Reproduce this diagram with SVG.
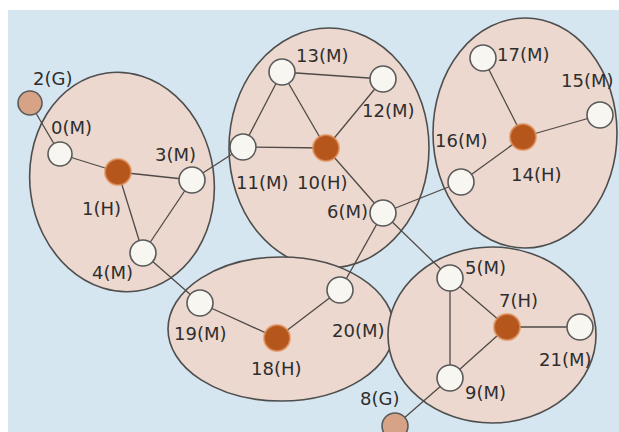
<svg xmlns="http://www.w3.org/2000/svg" width="619" height="432" viewBox="0 0 619 432">
<style>
.cl{fill:#ecd8ce;stroke:#4e4e4e;stroke-width:1.6}
.m{fill:#f8f6f1;stroke:#5a5a5a;stroke-width:1.6}
.h{fill:#b5561d;stroke:#e0925e;stroke-width:2;stroke-opacity:.7}
.g{fill:#d6a386;stroke:#5a5a5a;stroke-width:1.6}
.e{stroke:#4f4a48;stroke-width:1.3;fill:none}
text{font-family:"DejaVu Sans","Liberation Sans",sans-serif;font-size:18px;fill:#2e2e2e}
</style>
<rect x="0" y="0" width="619" height="432" fill="#ffffff"/>
<rect x="8" y="10" width="611" height="422" fill="#d6e6f0"/>
<g id="clusters">
<ellipse id="c1" class="cl" cx="122" cy="182" rx="92" ry="110" transform="rotate(-8 122 182)"/>
<ellipse id="c2" class="cl" cx="329" cy="148" rx="100" ry="120"/>
<ellipse id="c3" class="cl" cx="525" cy="133" rx="92" ry="115"/>
<ellipse id="c4" class="cl" cx="281" cy="329" rx="113" ry="72"/>
<ellipse id="c5" class="cl" cx="492" cy="335" rx="104" ry="88"/>
</g>
<g id="connectors">
<line class="e" x1="30" y1="103" x2="60" y2="154"/>
<line class="e" x1="60" y1="154" x2="118" y2="172"/>
<line class="e" x1="118" y1="172" x2="192" y2="180"/>
<line class="e" x1="118" y1="172" x2="143" y2="253"/>
<line class="e" x1="192" y1="180" x2="143" y2="253"/>
<line class="e" x1="192" y1="180" x2="243" y2="147"/>
<line class="e" x1="243" y1="147" x2="282" y2="72"/>
<line class="e" x1="243" y1="147" x2="326" y2="148"/>
<line class="e" x1="282" y1="72" x2="383" y2="79"/>
<line class="e" x1="282" y1="72" x2="326" y2="148"/>
<line class="e" x1="383" y1="79" x2="326" y2="148"/>
<line class="e" x1="326" y1="148" x2="383" y2="213"/>
<line class="e" x1="383" y1="213" x2="461" y2="182"/>
<line class="e" x1="461" y1="182" x2="523" y2="137"/>
<line class="e" x1="523" y1="137" x2="483" y2="58"/>
<line class="e" x1="523" y1="137" x2="600" y2="115"/>
<line class="e" x1="383" y1="213" x2="450" y2="278"/>
<line class="e" x1="383" y1="213" x2="340" y2="290"/>
<line class="e" x1="340" y1="290" x2="277" y2="338"/>
<line class="e" x1="277" y1="338" x2="200" y2="303"/>
<line class="e" x1="200" y1="303" x2="143" y2="253"/>
<line class="e" x1="450" y1="278" x2="507" y2="327"/>
<line class="e" x1="450" y1="278" x2="450" y2="378"/>
<line class="e" x1="450" y1="378" x2="507" y2="327"/>
<line class="e" x1="507" y1="327" x2="580" y2="327"/>
<line class="e" x1="450" y1="378" x2="395" y2="426"/>
</g>
<g id="n2"><circle class="g" cx="30" cy="103" r="12"/><text x="33" y="85">2(G)</text></g>
<g id="n0"><circle class="m" cx="60" cy="154" r="12"/><text x="51" y="134">0(M)</text></g>
<g id="n1"><circle class="h" cx="118" cy="172" r="13"/><text x="82" y="215">1(H)</text></g>
<g id="n3"><circle class="m" cx="192" cy="180" r="13"/><text x="155" y="161">3(M)</text></g>
<g id="n4"><circle class="m" cx="143" cy="253" r="13"/><text x="92" y="279">4(M)</text></g>
<g id="n11"><circle class="m" cx="243" cy="147" r="13"/><text x="236" y="189">11(M)</text></g>
<g id="n10"><circle class="h" cx="326" cy="148" r="13"/><text x="297" y="189">10(H)</text></g>
<g id="n13"><circle class="m" cx="282" cy="72" r="13"/><text x="296" y="62">13(M)</text></g>
<g id="n12"><circle class="m" cx="383" cy="79" r="13"/><text x="362" y="117">12(M)</text></g>
<g id="n6"><circle class="m" cx="383" cy="213" r="13"/><text x="327" y="218">6(M)</text></g>
<g id="n17"><circle class="m" cx="483" cy="58" r="13"/><text x="497" y="61">17(M)</text></g>
<g id="n15"><circle class="m" cx="600" cy="115" r="13"/><text x="561" y="87">15(M)</text></g>
<g id="n14"><circle class="h" cx="523" cy="137" r="13"/><text x="511" y="181">14(H)</text></g>
<g id="n16"><circle class="m" cx="461" cy="182" r="13"/><text x="435" y="147">16(M)</text></g>
<g id="n5"><circle class="m" cx="450" cy="278" r="13"/><text x="465" y="274">5(M)</text></g>
<g id="n7"><circle class="h" cx="507" cy="327" r="13"/><text x="499" y="307">7(H)</text></g>
<g id="n21"><circle class="m" cx="580" cy="327" r="13"/><text x="539" y="366">21(M)</text></g>
<g id="n9"><circle class="m" cx="450" cy="378" r="13"/><text x="465" y="399">9(M)</text></g>
<g id="n8"><circle class="g" cx="395" cy="426" r="13"/><text x="360" y="405">8(G)</text></g>
<g id="n20"><circle class="m" cx="340" cy="290" r="13"/><text x="332" y="337">20(M)</text></g>
<g id="n19"><circle class="m" cx="200" cy="303" r="13"/><text x="174" y="340">19(M)</text></g>
<g id="n18"><circle class="h" cx="277" cy="338" r="13"/><text x="251" y="375">18(H)</text></g>
</svg>
